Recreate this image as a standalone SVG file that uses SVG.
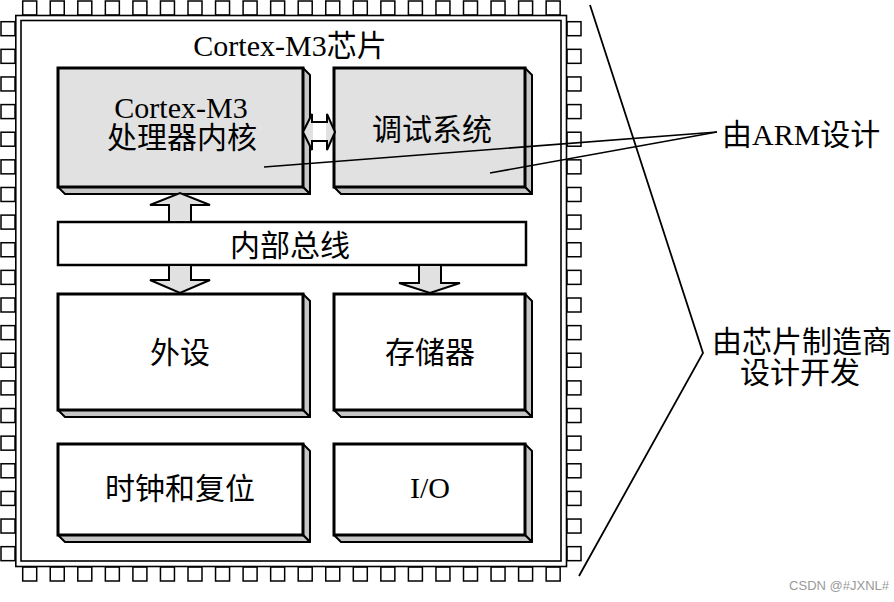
<svg xmlns="http://www.w3.org/2000/svg" xmlns:xlink="http://www.w3.org/1999/xlink" width="894" height="602" viewBox="0 0 894 602">
<defs>
<style>
.pin{fill:#fff;stroke:#000;stroke-width:1.5}
.chip{fill:none;stroke:#000;stroke-width:1.6}
.face{stroke:#000;stroke-width:3;stroke-linejoin:miter}
.gray{fill:#e1e1e1}
.white{fill:#fff}
.shade{fill:#c6c6c6;stroke:#000;stroke-width:2;stroke-linejoin:round}
.bus{fill:#fff;stroke:#000;stroke-width:2.5}
.arrow{fill:#e1e1e1;stroke:#000;stroke-width:2;stroke-linejoin:miter}
.line{fill:none;stroke:#000;stroke-width:1.8}
.t{font-family:"Liberation Serif","Noto Sans CJK SC",serif;font-size:30px;fill:#000;text-anchor:middle}
.wm{font-family:"Liberation Sans","Noto Sans",sans-serif;font-size:13px;fill:#9a9a9a;text-anchor:end}
</style>
<rect id="pin" class="pin" width="14" height="14"/>
</defs>
<rect width="894" height="602" fill="#fff"/>
<g id="pins-top">
<use xlink:href="#pin" x="22.7" y="1"/><use xlink:href="#pin" x="50.25" y="1"/><use xlink:href="#pin" x="77.8" y="1"/><use xlink:href="#pin" x="105.35" y="1"/><use xlink:href="#pin" x="132.9" y="1"/><use xlink:href="#pin" x="160.45" y="1"/><use xlink:href="#pin" x="188" y="1"/><use xlink:href="#pin" x="215.55" y="1"/><use xlink:href="#pin" x="243.1" y="1"/><use xlink:href="#pin" x="270.65" y="1"/><use xlink:href="#pin" x="298.2" y="1"/><use xlink:href="#pin" x="325.75" y="1"/><use xlink:href="#pin" x="353.3" y="1"/><use xlink:href="#pin" x="380.85" y="1"/><use xlink:href="#pin" x="408.4" y="1"/><use xlink:href="#pin" x="435.95" y="1"/><use xlink:href="#pin" x="463.5" y="1"/><use xlink:href="#pin" x="491.05" y="1"/><use xlink:href="#pin" x="518.6" y="1"/><use xlink:href="#pin" x="546.15" y="1"/>
</g>
<g id="pins-bottom">
<use xlink:href="#pin" x="22.7" y="567"/><use xlink:href="#pin" x="50.25" y="567"/><use xlink:href="#pin" x="77.8" y="567"/><use xlink:href="#pin" x="105.35" y="567"/><use xlink:href="#pin" x="132.9" y="567"/><use xlink:href="#pin" x="160.45" y="567"/><use xlink:href="#pin" x="188" y="567"/><use xlink:href="#pin" x="215.55" y="567"/><use xlink:href="#pin" x="243.1" y="567"/><use xlink:href="#pin" x="270.65" y="567"/><use xlink:href="#pin" x="298.2" y="567"/><use xlink:href="#pin" x="325.75" y="567"/><use xlink:href="#pin" x="353.3" y="567"/><use xlink:href="#pin" x="380.85" y="567"/><use xlink:href="#pin" x="408.4" y="567"/><use xlink:href="#pin" x="435.95" y="567"/><use xlink:href="#pin" x="463.5" y="567"/><use xlink:href="#pin" x="491.05" y="567"/><use xlink:href="#pin" x="518.6" y="567"/><use xlink:href="#pin" x="546.15" y="567"/>
</g>
<g id="pins-left">
<use xlink:href="#pin" x="1" y="21.7"/><use xlink:href="#pin" x="1" y="49.33"/><use xlink:href="#pin" x="1" y="76.96"/><use xlink:href="#pin" x="1" y="104.59"/><use xlink:href="#pin" x="1" y="132.22"/><use xlink:href="#pin" x="1" y="159.85"/><use xlink:href="#pin" x="1" y="187.48"/><use xlink:href="#pin" x="1" y="215.11"/><use xlink:href="#pin" x="1" y="242.74"/><use xlink:href="#pin" x="1" y="270.37"/><use xlink:href="#pin" x="1" y="298"/><use xlink:href="#pin" x="1" y="325.63"/><use xlink:href="#pin" x="1" y="353.26"/><use xlink:href="#pin" x="1" y="380.89"/><use xlink:href="#pin" x="1" y="408.52"/><use xlink:href="#pin" x="1" y="436.15"/><use xlink:href="#pin" x="1" y="463.78"/><use xlink:href="#pin" x="1" y="491.41"/><use xlink:href="#pin" x="1" y="519.04"/><use xlink:href="#pin" x="1" y="546.67"/>
</g>
<g id="pins-right">
<use xlink:href="#pin" x="567" y="21.7"/><use xlink:href="#pin" x="567" y="49.33"/><use xlink:href="#pin" x="567" y="76.96"/><use xlink:href="#pin" x="567" y="104.59"/><use xlink:href="#pin" x="567" y="132.22"/><use xlink:href="#pin" x="567" y="159.85"/><use xlink:href="#pin" x="567" y="187.48"/><use xlink:href="#pin" x="567" y="215.11"/><use xlink:href="#pin" x="567" y="242.74"/><use xlink:href="#pin" x="567" y="270.37"/><use xlink:href="#pin" x="567" y="298"/><use xlink:href="#pin" x="567" y="325.63"/><use xlink:href="#pin" x="567" y="353.26"/><use xlink:href="#pin" x="567" y="380.89"/><use xlink:href="#pin" x="567" y="408.52"/><use xlink:href="#pin" x="567" y="436.15"/><use xlink:href="#pin" x="567" y="463.78"/><use xlink:href="#pin" x="567" y="491.41"/><use xlink:href="#pin" x="567" y="519.04"/><use xlink:href="#pin" x="567" y="546.67"/>
</g>
<g id="chip">
<rect class="chip" x="15.8" y="15.5" width="550.7" height="551" fill="#fff"/>
<rect class="chip" x="21" y="20.5" width="540" height="540.5"/>
<text class="t" x="290" y="56">Cortex-M3芯片</text>
</g>
<g id="cpu">
<polygon class="shade" points="303,68 310,75 310,194 303,187"/>
<polygon class="shade" points="58,187 303,187 310,194 65,194"/>
<rect class="face gray" x="58" y="68" width="245" height="119"/>
<text class="t" x="181" y="118">Cortex-M3</text>
<text class="t" x="182" y="148">处理器内核</text>
</g>
<g id="debug">
<polygon class="shade" points="525,68 532,75 532,194 525,187"/>
<polygon class="shade" points="334,187 525,187 532,194 341,194"/>
<rect class="face gray" x="334" y="68" width="191" height="119"/>
<text class="t" x="432" y="140">调试系统</text>
</g>
<g id="bus">
<rect class="bus" x="58" y="222" width="468" height="43"/>
<text class="t" x="290" y="256">内部总线</text>
</g>
<g id="periph">
<polygon class="shade" points="303,294 310,301 310,417 303,410"/>
<polygon class="shade" points="58,410 303,410 310,417 65,417"/>
<rect class="face white" x="58" y="294" width="245" height="116"/>
<text class="t" x="180" y="363">外设</text>
</g>
<g id="memory">
<polygon class="shade" points="525,294 532,301 532,417 525,410"/>
<polygon class="shade" points="334,410 525,410 532,417 341,417"/>
<rect class="face white" x="334" y="294" width="191" height="116"/>
<text class="t" x="430" y="363">存储器</text>
</g>
<g id="clock">
<polygon class="shade" points="303,444 310,451 310,542 303,535"/>
<polygon class="shade" points="58,535 303,535 310,542 65,542"/>
<rect class="face white" x="58" y="444" width="245" height="91"/>
<text class="t" x="180" y="499">时钟和复位</text>
</g>
<g id="io">
<polygon class="shade" points="525,444 532,451 532,542 525,535"/>
<polygon class="shade" points="334,535 525,535 532,542 341,542"/>
<rect class="face white" x="334" y="444" width="191" height="91"/>
<text class="t" x="430" y="498">I/O</text>
</g>
<g id="arm-label">
<text class="t" x="722" y="144.5" style="text-anchor:start">由ARM设计</text>
</g>
<g id="vendor-label">
<text class="t" x="802" y="352">由芯片制造商</text>
<text class="t" x="800" y="383">设计开发</text>
</g>
<g id="connectors">
<polygon class="arrow" points="169,222 169,205 150,205 180,193 210,205 191,205 191,222"/>
<polygon class="arrow" points="169,265 169,280 150,280 180,293 210,280 191,280 191,265"/>
<polygon class="arrow" points="419,265 419,283 399,283 430,293 460,283 441,283 441,265"/>
<polygon class="arrow" points="303,132 312,114 312,122 327,122 327,114 335,132 327,150 327,141 312,141 312,150"/>
<rect x="313" y="123" width="13" height="17" fill="#fff"/>
<polyline class="line" points="590,5 703,353 579,576"/>
<line class="line" x1="717" y1="132" x2="264" y2="167" style="stroke-width:1.6"/>
<line class="line" x1="717" y1="132" x2="490" y2="173" style="stroke-width:1.6"/>
</g>
<text class="wm" x="889" y="590">CSDN @#JXNL#</text>
</svg>
